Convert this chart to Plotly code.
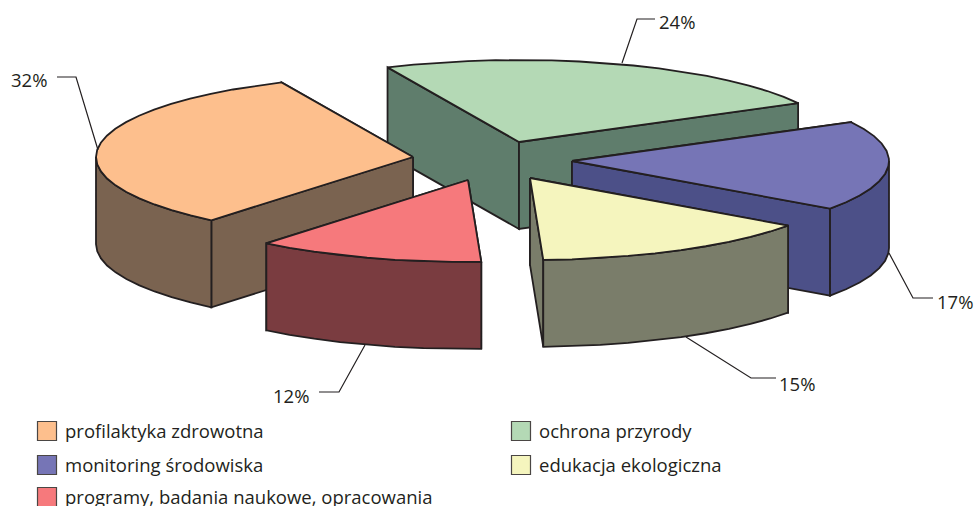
import numpy as np
import plotly.graph_objects as go

# Data
categories = ["profilaktyka zdrowotna", "ochrona przyrody", "monitoring środowiska",
              "edukacja ekologiczna", "programy, badania naukowe, opracowania"]
shares = [32, 24, 17, 15, 12]

# Styles
top_colors = ["#FDBF8D", "#B4D9B5", "#7675B6", "#F5F5BE", "#F6797C"]
wall_colors = ["#7A6350", "#5F7D6C", "#4C5088", "#7A7D6A", "#7A3C40"]
apex_x = [413, 519, 572, 530, 468]
apex_y = [157, 142, 161, 178, 180]
label_x = [29, 677, 955, 797, 291]
label_y = [79, 21, 301, 383, 395]
leader_x = [[57, 76, 98], [655, 637, 622], [933, 913, 889], [776, 751, 686], [319, 339, 365]]
leader_y = [[77, 77, 150], [19, 19, 63], [298, 298, 253], [378, 378, 337], [392, 392, 345]]
legend_x = [47, 521, 47, 521, 47]
legend_y = [431, 431, 465, 465, 497]

RX, RY, DEPTH = 317, 82, 87
START = 114.5                       # clockwise from here: order below
draw_order = [1, 0, 2, 3, 4]        # back to front
clockwise = [1, 2, 3, 4, 0]
# small projection correction of each slice's closing edge, degrees
edge_correction = {1: 0.2, 2: -2.4, 3: -0.5, 4: 0.8, 0: 0.0}
INK = "#231F20"
FONT = "Open Sans, Noto Sans, sans-serif"

# angular range of every slice, from the shares
ranges = {}
a = START
for i in clockwise:
    a_end = a - shares[i] / sum(shares) * 360
    ranges[i] = (a + (0 if i == 1 else edge_correction[clockwise[clockwise.index(i) - 1]]),
                 a_end + edge_correction[i])
    a = a_end

fig = go.Figure()


def poly(xs, ys, fill):
    fig.add_trace(go.Scatter(
        x=list(xs) + [xs[0]], y=list(ys) + [ys[0]], mode="lines", fill="toself",
        fillcolor=fill, line=dict(color=INK, width=1.8), hoverinfo="skip", showlegend=False))


for i in draw_order:
    t1, t2 = ranges[i]
    ax, ay = apex_x[i], apex_y[i]
    n = max(2, int((t1 - t2) / 5))
    t = np.linspace(t1, t2, n + 1)
    extra = [k * 180 for k in range(-3, 4) if t2 < k * 180 < t1]
    t = np.unique(np.concatenate([t, extra]))[::-1]
    r = np.radians(t)
    px = ax + RX * np.cos(r)
    py = ay - RY * np.sin(r)

    p1 = (px[0], py[0])
    p2 = (px[-1], py[-1])
    vis1 = np.cos(np.radians(t1)) < 0
    vis2 = np.cos(np.radians(t2)) > 0
    walls = [(p1, vis1), (p2, vis2)]
    walls.sort(key=lambda w: w[1])
    for (qx, qy), _ in walls:
        poly([ax, qx, qx, ax], [ay, qy, qy + DEPTH, ay + DEPTH], wall_colors[i])
    mask = np.sin(r) <= 1e-9
    if mask.sum() >= 2:
        fx, fy = px[mask], py[mask]
        poly(list(fx) + list(fx[::-1]), list(fy) + list(fy[::-1] + DEPTH), wall_colors[i])
    poly([ax] + list(px), [ay] + list(py), top_colors[i])

annotations = []
for i, s in enumerate(shares):
    fig.add_trace(go.Scatter(x=leader_x[i], y=leader_y[i], mode="lines",
                             line=dict(color=INK, width=1.2), hoverinfo="skip", showlegend=False))
    annotations.append(dict(x=label_x[i], y=label_y[i], text=f"{s}%", showarrow=False,
                            font=dict(family=FONT, size=18.5, color=INK)))
    fig.add_trace(go.Scatter(x=[legend_x[i]], y=[legend_y[i]], mode="markers",
                             marker=dict(symbol="square", size=19, color=top_colors[i],
                                         line=dict(color="#4A4644", width=1.2)),
                             hoverinfo="skip", showlegend=False))
    annotations.append(dict(x=legend_x[i] + 16, y=legend_y[i] - 1, text=categories[i], showarrow=False,
                            xanchor="left", font=dict(family=FONT, size=18.5, color=INK)))

fig.update_layout(
    width=976, height=506, margin=dict(l=0, r=0, t=0, b=0),
    paper_bgcolor="white", plot_bgcolor="white", annotations=annotations,
    xaxis=dict(range=[0, 976], visible=False, fixedrange=True),
    yaxis=dict(range=[506, 0], visible=False, fixedrange=True),
)
fig.write_html("out.html", config=dict(displayModeBar=False),
               post_script="document.body.style.margin='0';document.body.style.overflow='hidden';")
